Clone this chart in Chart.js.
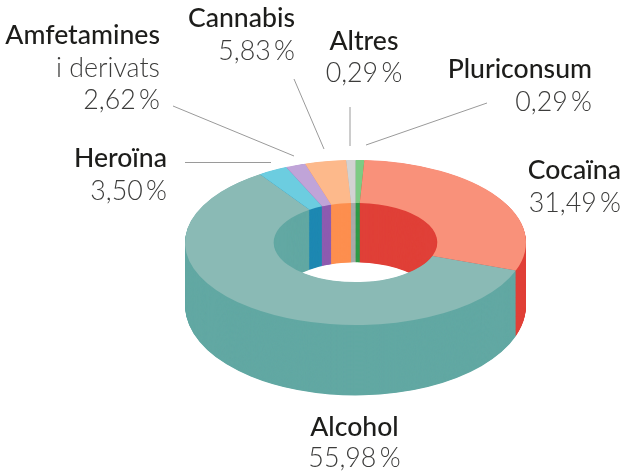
<!DOCTYPE html>
<html lang="ca">
<head>
<meta charset="utf-8">
<title>Drogues</title>
<script src="https://cdn.jsdelivr.net/npm/chart.js@4"></script>
<style>
html,body{margin:0;padding:0;background:#fff}
#box{width:627px;height:473px;position:relative}
canvas{display:block}
</style>
</head>
<body>
<div id="box"><canvas id="c" width="627" height="473"></canvas></div>
<script>
// Categories in drawing order, clockwise from 12 o'clock
const categories = ['Pluriconsum', 'Cocaïna', 'Alcohol', 'Heroïna', 'Amfetamines', 'Cannabis', 'Altres'];
// Percentages as printed on the chart
const printedPercent = ['0,29 %', '31,49 %', '55,98 %', '3,50 %', '2,62 %', '5,83 %', '0,29 %'];
// Share of the ring each slice visibly occupies in the picture (estimated; the
// original's 3D projection makes these differ from the printed figures)
const sliceShare = [0.83, 29.7, 60.0, 2.8, 1.9, 3.9, 0.87];
const topColors  = ['#7DCB83', '#F9917A', '#8ABAB5', '#6CCDE0', '#C0A4D8', '#FDB98B', '#D2D2D2'];
const sideColors = ['#2E9B47', '#E04038', '#62A8A3', '#1E88B2', '#8E5CB0', '#FD8F4F', '#A9A9A9'];

// Text blocks: lines, anchor, right/centre x, per-line baselines
const labelBlocks = [
  {lines:[['Cannabis','n'],['5,83 %','v']], align:'right', x:295, ys:[27,60]},
  {lines:[['Amfetamines','n'],['i derivats','v'],['2,62 %','v']], align:'right', x:160, ys:[44,77,109]},
  {lines:[['Heroïna','n'],['3,50 %','v']], align:'right', x:167, ys:[167,200]},
  {lines:[['Altres','n'],['0,29 %','v']], align:'center', x:364, ys:[50,82]},
  {lines:[['Pluriconsum','n'],['0,29 %','v']], align:'right', x:592, ys:[78,111]},
  {lines:[['Cocaïna','n'],['31,49 %','v']], align:'right', x:621, ys:[179,212]},
  {lines:[['Alcohol','n'],['55,98 %','v']], align:'center', x:354.5, ys:[436,467]}
];
const leaderLines = [
  [173,106,294,156],
  [185,162.5,271,162.5],
  [294,79,324,149],
  [350,107,350,146],
  [487,103,366,145]
];

const yFlatten = 0.484;   // ellipse ratio of the top face
const depthPx = 63;       // drop of the base ellipse centre
const depthGrow = 0.09;   // base ellipse is slightly rounder (perspective)

function drawArcs(chart, colors){
  const ctx = chart.ctx;
  chart.getDatasetMeta(0).data.forEach((arc, i) => {
    const saved = arc.options;
    arc.options = Object.assign({}, saved, {backgroundColor: colors[i]});
    arc.draw(ctx);
    arc.options = saved;
  });
}

const ring3d = {
  id: 'ring3d',
  beforeDatasetsDraw(chart){
    const ctx = chart.ctx;
    const a = chart.getDatasetMeta(0).data[0];
    const cx = a.x, cy = a.y;
    for (let i = depthPx * 2; i >= 0; i--) {
      const t = i / (depthPx * 2);
      ctx.save();
      ctx.translate(cx, cy + depthPx * t);
      ctx.scale(1, yFlatten * (1 + depthGrow * t));
      ctx.translate(-cx, -cy);
      drawArcs(chart, i === 0 ? topColors : sideColors);
      ctx.restore();
    }
    return false;
  },
  afterDraw(chart){
    const ctx = chart.ctx;
    ctx.save();
    ctx.strokeStyle = '#9a9a9a';
    ctx.lineWidth = 1;
    leaderLines.forEach(l => {
      ctx.beginPath();
      ctx.moveTo(l[0], l[1]);
      ctx.lineTo(l[2], l[3]);
      ctx.stroke();
    });
    ctx.textBaseline = 'alphabetic';
    labelBlocks.forEach(b => {
      ctx.textAlign = b.align;
      b.lines.forEach((ln, j) => {
        if (ln[1] === 'n') { ctx.font = '500 26.6px Lato'; ctx.fillStyle = '#1d1d1b'; }
        else { ctx.font = '300 26.8px Lato'; ctx.fillStyle = '#3c3c3b'; }
        ctx.fillText(ln[0].replace(' %', '\u2009%'), b.x, b.ys[j]);
      });
    });
    ctx.restore();
  }
};

new Chart(document.getElementById('c'), {
  type: 'doughnut',
  data: {
    labels: categories,
    datasets: [{ data: sliceShare, backgroundColor: topColors, borderWidth: 0 }]
  },
  options: {
    responsive: false,
    animation: false,
    cutout: '48%',
    rotation: 0,
    layout: { padding: { left: 185, right: 101, top: 72, bottom: 60 } },
    plugins: { legend: { display: false }, tooltip: { enabled: false } },
    events: []
  },
  plugins: [ring3d]
});
</script>
</body>
</html>
